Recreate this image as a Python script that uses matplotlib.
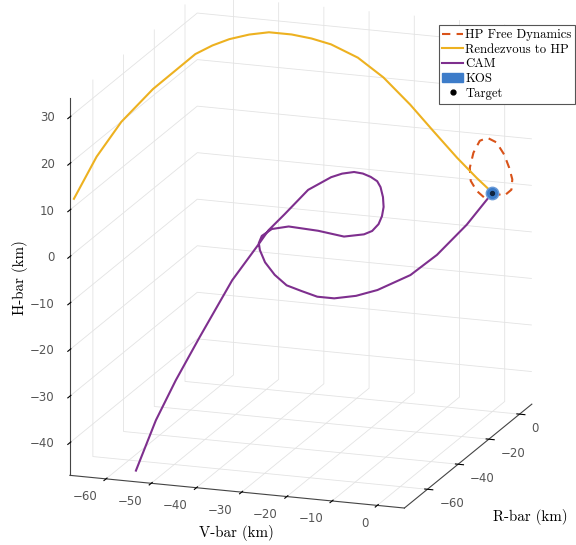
import matplotlib
matplotlib.use("Agg")
import matplotlib.pyplot as plt
from matplotlib.lines import Line2D
from matplotlib.patches import Patch
from mpl_toolkits.mplot3d import proj3d

# ---- data (km): V-bar, R-bar, H-bar ----
rdv_v = [-67.1, -66.5, -65.1, -61.5, -54.5, -53.1, -51.4, -48.7, -45.7, -41.7, -37.8, -34.0, -28.4, -23.1,
         -17.5, -12.6, -7.5, -3.3, 0.0]
rdv_r = [-75.0, -62.0, -50.0, -40.0, -33.0, -26.0, -20.0, -15.0, -11.0, -8.0, -6.5, -5.0, -4.0, -3.0,
         -2.0, -1.5, -1.0, -0.5, 0.0]
rdv_h = [12.5, 18.1, 22.5, 27.2, 33.5, 33.6, 33.5, 33.4, 33.1, 32.2, 31.3, 30.0, 27.4, 23.4,
         17.8, 12.5, 7.1, 3.0, 0.0]

hp_v = [0.0, 2.6, 4.2, 4.4, 3.7, 2.6, 0.9, -1.1, -2.8, -4.2, -5.0, -4.8, -3.5, -1.75, 0.0]
hp_r = [0.0] * 15
hp_h = [0.0, -0.4, 1.05, 3.3, 5.75, 8.45, 10.9, 11.7, 10.9, 8.2, 4.9, 2.1, 0.1, -1.25, 0.0]

cam_v = [0.0, -5.0, -10.9, -16.1, -22.7, -27.1, -31.6, -35.0, -38.2, -41.1, -43.4, -45.2, -46.0, -45.9,
         -44.9, -42.0, -37.6, -30.4, -24.0, -18.9, -16.75, -15.0, -13.9, -13.2, -13.0, -13.2, -13.6,
         -14.7, -16.1, -17.7, -20.0, -22.1, -26.5, -31.0, -33.9, -35.4, -39.9, -45.4, -49.0, -51.7, -54.4]
cam_r = [0, -2, -4, -6, -8, -9, -10, -11, -12, -13, -14, -15, -16, -17,
         -18, -20, -22, -24, -26, -28, -29, -30, -31, -32, -33, -34, -35,
         -36, -37, -38, -39, -40, -42, -44, -46, -48, -52, -57, -62, -67, -72]
cam_h = [0.0, -6.8, -13.3, -17.6, -20.9, -22.3, -23.0, -22.7, -21.5, -20.3, -18.0, -15.2, -12.4, -10.6,
         -8.7, -6.4, -4.9, -4.6, -4.7, -3.2, -2.0, -0.1, 2.0, 4.3, 6.7, 9.1, 10.6,
         11.7, 12.55, 13.0, 12.7, 12.0, 9.4, 4.3, 1.1, -1.5, -8.6, -20.0, -28.3, -35.8, -45.5]

target = [0.0, 0.0, 0.0]

xlim = (-68, 6)
ylim = (-75, 8)
zlim = (-47, 34)
xticks = [-60, -50, -40, -30, -20, -10, 0]
yticks = [-60, -40, -20, 0]
zticks = [-40, -30, -20, -10, 0, 10, 20, 30]

c_hp = "#D95319"
c_rdv = "#EDB120"
c_cam = "#7E2F8E"
c_kos = "#3D7CC9"
c_tick = "#555555"

plt.rcParams["grid.color"] = "#e3e3e3"
plt.rcParams["grid.linewidth"] = 0.6

fig = plt.figure(figsize=(5.76, 5.45), dpi=100)
ax = fig.add_axes([0.0095, 0.0255, 1.0, 1.0], projection="3d", proj_type="ortho", computed_zorder=False)
ax.view_init(elev=16.4, azim=-70.9)
ax.set_box_aspect((1.0, 1.10, 1.11), zoom=1.17)

ax.plot(hp_v, hp_r, hp_h, color=c_hp, lw=1.5, dashes=(4, 3), zorder=2)
ax.plot(rdv_v, rdv_r, rdv_h, color=c_rdv, lw=1.5, zorder=2)
ax.plot(cam_v, cam_r, cam_h, color=c_cam, lw=1.5, zorder=2)
ax.scatter([target[0]], [target[1]], [target[2]], s=80, color=c_kos, edgecolors="#6a9bd8",
           linewidths=1, depthshade=False, zorder=3)
ax.scatter([target[0]], [target[1]], [target[2]], s=8, color="#10243f", depthshade=False, zorder=4)

ax.set_xlim(*xlim)
ax.set_ylim(*ylim)
ax.set_zlim(*zlim)
ax.set_xticks(xticks)
ax.set_yticks(yticks)
ax.set_zticks(zticks)
ax.set_xticklabels([])
ax.set_yticklabels([])
ax.set_zticklabels([])
ax.zaxis.set_ticks_position("lower")

for axis in (ax.xaxis, ax.yaxis, ax.zaxis):
    axis.set_pane_color((1, 1, 1, 1))
    axis.pane.set_edgecolor("none")
    axis.line.set_color("#444444")
    axis.line.set_linewidth(0.8)

# tick labels placed MATLAB-style next to the projected tick positions
fig.canvas.draw()
W, H = fig.bbox.width, fig.bbox.height


def put_label(x, y, z, text, dx, dy, ha):
    px, py, _ = proj3d.proj_transform(x, y, z, ax.get_proj())
    dpx, dpy = ax.transData.transform((px, py))
    fig.text((dpx + dx) / W, (dpy + dy) / H, text, fontsize=8.5, color=c_tick, ha=ha, va="center")


for v in xticks:
    put_label(v, ylim[0], zlim[0], f"{v}".replace("-", "\u2212"), -9, -18, "right")
for r in yticks:
    put_label(xlim[1], r, zlim[0], f"{r}".replace("-", "\u2212"), 12, -14, "left")
for h in zticks:
    put_label(xlim[0], ylim[0], h, f"{h}".replace("-", "\u2212"), -15, -1, "right")

fig.text(0.41, 0.007, "V-bar (km)", family="cmr10", fontsize=10.8, ha="center", va="bottom")
fig.text(0.92, 0.037, "R-bar (km)", family="cmr10", fontsize=10.8, ha="center", va="bottom")
fig.text(0.035, 0.49, "H-bar (km)", family="cmr10", fontsize=10.8, ha="center", va="center", rotation=90)

handles = [
    Line2D([], [], color=c_hp, lw=1.5, dashes=(4, 3)),
    Line2D([], [], color=c_rdv, lw=1.5),
    Line2D([], [], color=c_cam, lw=1.5),
    Patch(facecolor=c_kos, edgecolor=c_kos),
    Line2D([], [], color="black", marker="o", ms=3.5, ls="none"),
]
labels = ["HP Free Dynamics", "Rendezvous to HP", "CAM", "KOS", "Target"]
leg = fig.legend(handles, labels, loc="upper right", bbox_to_anchor=(0.999, 0.954),
                 prop={"family": "cmr10", "size": 9.2}, fancybox=False, framealpha=1,
                 edgecolor="#555555", borderpad=0.3, labelspacing=0.2, handlelength=1.6,
                 handletextpad=0.2, borderaxespad=0.0)
leg.get_frame().set_linewidth(0.8)

fig.savefig("out.png", dpi=100)
